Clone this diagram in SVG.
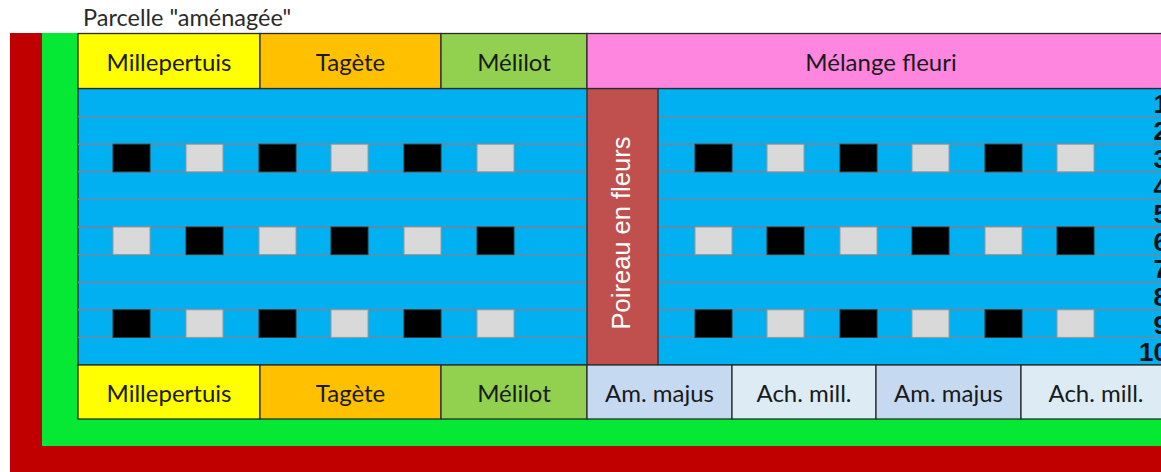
<svg xmlns="http://www.w3.org/2000/svg" width="1161" height="472" viewBox="0 0 1161 472">
<defs>
<style>
.lbl{font-family:Lato,"Liberation Sans",sans-serif;font-size:24px;fill:#1a1a1a;text-anchor:middle}
.cell{stroke:#2b2b2b;stroke-width:1.3}
.rl{stroke:#7a8294;stroke-width:1.4}
.blk{fill:#000;stroke:#333;stroke-width:1}
.gry{fill:#d9d9d9;stroke:#9a9a9a;stroke-width:1}
.num{font-family:"Liberation Sans",Arial,sans-serif;font-weight:bold;font-size:26px;fill:#111;text-anchor:end}
</style>
</defs>
<rect width="1161" height="472" fill="#fff"/>
<text x="83" y="26" font-family="Lato,'Liberation Sans',sans-serif" font-size="23.5" fill="#2a2a2a">Parcelle "aménagée"</text>
<g id="border-red"><rect x="10" y="33" width="1160" height="450" fill="#c00000"/></g>
<g id="border-green"><rect x="42" y="33" width="1130" height="413" fill="#05e834"/></g>
<g id="blue-area">
<rect x="78" y="88.5" width="1100" height="276.5" fill="#00b0f0" class="cell"/>
<g class="rl">
<line x1="78" y1="116.6" x2="1170" y2="116.6"/>
<line x1="78" y1="144.2" x2="1170" y2="144.2"/>
<line x1="78" y1="171.8" x2="1170" y2="171.8"/>
<line x1="78" y1="199.4" x2="1170" y2="199.4"/>
<line x1="78" y1="227" x2="1170" y2="227"/>
<line x1="78" y1="254.6" x2="1170" y2="254.6"/>
<line x1="78" y1="282.2" x2="1170" y2="282.2"/>
<line x1="78" y1="309.8" x2="1170" y2="309.8"/>
<line x1="78" y1="337.4" x2="1170" y2="337.4"/>
</g>
</g>
<g id="squares">
<rect class="blk" x="113" y="144.2" width="37" height="27.6"/>
<rect class="gry" x="186" y="144.2" width="37" height="27.6"/>
<rect class="blk" x="259" y="144.2" width="37" height="27.6"/>
<rect class="gry" x="331" y="144.2" width="37" height="27.6"/>
<rect class="blk" x="404" y="144.2" width="37" height="27.6"/>
<rect class="gry" x="477" y="144.2" width="37" height="27.6"/>
<rect class="blk" x="695" y="144.2" width="37" height="27.6"/>
<rect class="gry" x="767" y="144.2" width="37" height="27.6"/>
<rect class="blk" x="840" y="144.2" width="37" height="27.6"/>
<rect class="gry" x="912" y="144.2" width="37" height="27.6"/>
<rect class="blk" x="985" y="144.2" width="37" height="27.6"/>
<rect class="gry" x="1057" y="144.2" width="37" height="27.6"/>
<rect class="gry" x="113" y="227" width="37" height="27.6"/>
<rect class="blk" x="186" y="227" width="37" height="27.6"/>
<rect class="gry" x="259" y="227" width="37" height="27.6"/>
<rect class="blk" x="331" y="227" width="37" height="27.6"/>
<rect class="gry" x="404" y="227" width="37" height="27.6"/>
<rect class="blk" x="477" y="227" width="37" height="27.6"/>
<rect class="gry" x="695" y="227" width="37" height="27.6"/>
<rect class="blk" x="767" y="227" width="37" height="27.6"/>
<rect class="gry" x="840" y="227" width="37" height="27.6"/>
<rect class="blk" x="912" y="227" width="37" height="27.6"/>
<rect class="gry" x="985" y="227" width="37" height="27.6"/>
<rect class="blk" x="1057" y="227" width="37" height="27.6"/>
<rect class="blk" x="113" y="309.8" width="37" height="27.6"/>
<rect class="gry" x="186" y="309.8" width="37" height="27.6"/>
<rect class="blk" x="259" y="309.8" width="37" height="27.6"/>
<rect class="gry" x="331" y="309.8" width="37" height="27.6"/>
<rect class="blk" x="404" y="309.8" width="37" height="27.6"/>
<rect class="gry" x="477" y="309.8" width="37" height="27.6"/>
<rect class="blk" x="695" y="309.8" width="37" height="27.6"/>
<rect class="gry" x="767" y="309.8" width="37" height="27.6"/>
<rect class="blk" x="840" y="309.8" width="37" height="27.6"/>
<rect class="gry" x="912" y="309.8" width="37" height="27.6"/>
<rect class="blk" x="985" y="309.8" width="37" height="27.6"/>
<rect class="gry" x="1057" y="309.8" width="37" height="27.6"/>
</g>
<g id="row-numbers">
<text class="num" x="1168" y="112.8">1</text>
<text class="num" x="1168" y="140.4">2</text>
<text class="num" x="1168" y="168">3</text>
<text class="num" x="1168" y="195.6">4</text>
<text class="num" x="1168" y="223.2">5</text>
<text class="num" x="1168" y="250.8">6</text>
<text class="num" x="1168" y="278.4">7</text>
<text class="num" x="1168" y="306">8</text>
<text class="num" x="1168" y="333.6">9</text>
<text class="num" x="1168" y="361.2">10</text>
</g>
<g id="poireau">
<rect x="587" y="88.5" width="71" height="276.5" fill="#c0504d" class="cell"/>
<text transform="translate(630,233) rotate(-90)" font-family="'Liberation Sans',Arial,sans-serif" font-size="25.5" fill="#fff" text-anchor="middle">Poireau en fleurs</text>
</g>
<g id="top-row">
<rect class="cell" x="78" y="33.5" width="182" height="55" fill="#ffff00"/>
<text class="lbl" x="169" y="71">Millepertuis</text>
<rect class="cell" x="260" y="33.5" width="181" height="55" fill="#ffc000"/>
<text class="lbl" x="350.5" y="71">Tagète</text>
<rect class="cell" x="441" y="33.5" width="146" height="55" fill="#92d050"/>
<text class="lbl" x="514" y="71">Mélilot</text>
<rect class="cell" x="587" y="33.5" width="590" height="55" fill="#ff86df"/>
<text class="lbl" x="881" y="71">Mélange fleuri</text>
</g>
<g id="bottom-row">
<rect class="cell" x="78" y="365" width="182" height="54" fill="#ffff00"/>
<text class="lbl" x="169" y="401.5">Millepertuis</text>
<rect class="cell" x="260" y="365" width="181" height="54" fill="#ffc000"/>
<text class="lbl" x="350.5" y="401.5">Tagète</text>
<rect class="cell" x="441" y="365" width="146" height="54" fill="#92d050"/>
<text class="lbl" x="514" y="401.5">Mélilot</text>
<rect class="cell" x="587" y="365" width="145" height="54" fill="#c5d9f1"/>
<text class="lbl" x="659.5" y="401.5">Am. majus</text>
<rect class="cell" x="732" y="365" width="144" height="54" fill="#dcebf4"/>
<text class="lbl" x="804" y="401.5">Ach. mill.</text>
<rect class="cell" x="876" y="365" width="145" height="54" fill="#c5d9f1"/>
<text class="lbl" x="948.5" y="401.5">Am. majus</text>
<rect class="cell" x="1021" y="365" width="150" height="54" fill="#dcebf4"/>
<text class="lbl" x="1096" y="401.5">Ach. mill.</text>
</g>
</svg>
